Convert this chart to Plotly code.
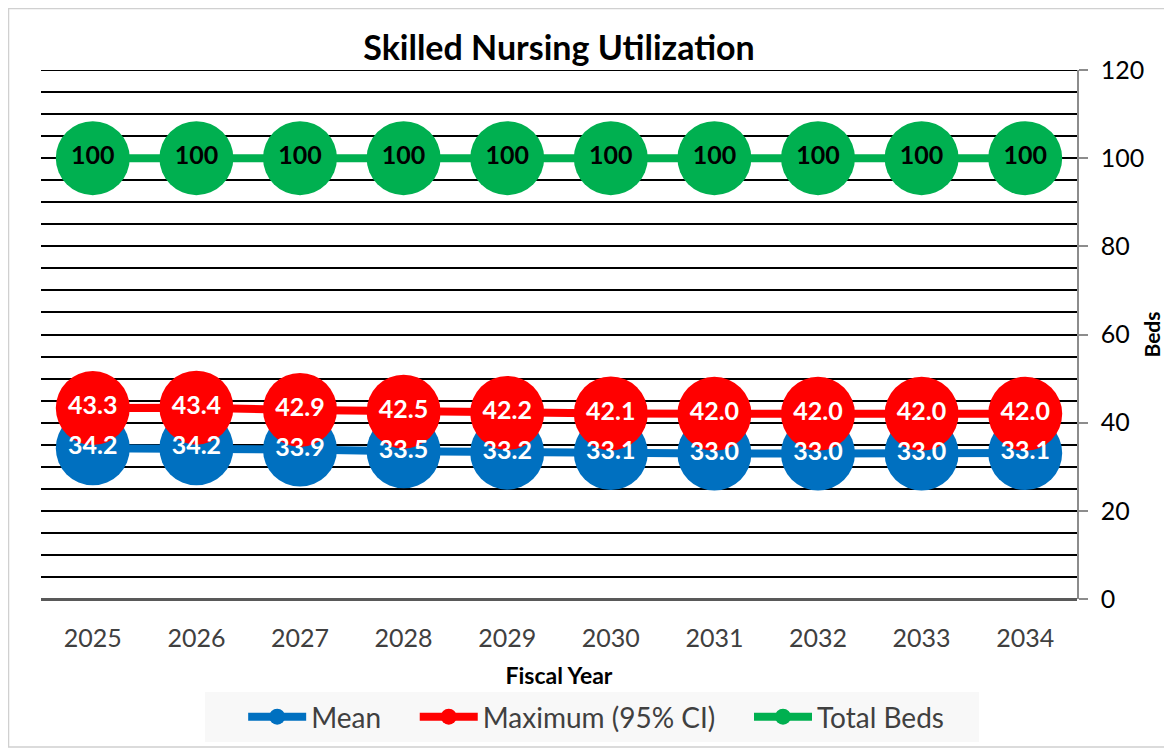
import plotly.graph_objects as go

years = ["2025", "2026", "2027", "2028", "2029", "2030", "2031", "2032", "2033", "2034"]
mean_vals = [34.2, 34.2, 33.9, 33.5, 33.2, 33.1, 33.0, 33.0, 33.0, 33.1]
max_vals = [43.3, 43.4, 42.9, 42.5, 42.2, 42.1, 42.0, 42.0, 42.0, 42.0]
total_beds = [100, 100, 100, 100, 100, 100, 100, 100, 100, 100]

FONT = "Lato"
NB = "\u00a0"
series = [
    ("Mean", NB * 4, mean_vals, "#0070C0", "white", "{:.1f}"),
    ("Maximum (95% CI)", NB * 4, max_vals, "#FF0000", "white", "{:.1f}"),
    ("Total Beds", NB * 4, total_beds, "#00B050", "black", "{:d}"),
]

fig = go.Figure()
for name, pad, vals, color, tcolor, fmt in series:
    fig.add_trace(go.Scatter(
        x=years, y=vals, name=name + pad, mode="lines+markers",
        line=dict(color=color, width=8),
        marker=dict(color=color, size=74),
    ))
# data labels drawn on top of all markers
for name, pad, vals, color, tcolor, fmt in series:
    fig.add_trace(go.Scatter(
        x=years, y=vals, mode="text", showlegend=False, hoverinfo="skip",
        text=[fmt.format(v) for v in vals],
        textposition="middle center",
        textfont=dict(family=FONT, size=25, color=tcolor, weight="bold"),
    ))

# page has an 8px body margin; compensate
OFF = 8
W, H = 1172 - OFF, 748 - OFF
ml, mr, mt, mb = 41 - OFF, 95, 70 - OFF, 149
pw, ph = W - ml - mr, H - mt - mb

fig.update_layout(
    width=W, height=H,
    margin=dict(l=ml, r=mr, t=mt, b=mb, autoexpand=False),
    paper_bgcolor="white", plot_bgcolor="white",
    font=dict(family=FONT, color="black"),
    title=dict(text="<b>Skilled Nursing Utilization</b>", x=(ml + pw / 2) / W,
               xanchor="center", y=1 - (48 - OFF) / H, yanchor="middle",
               font=dict(family=FONT, size=34, color="black")),
    showlegend=True,
    legend=dict(orientation="h", xref="container", yref="container",
                x=((203 + 980) / 2 - OFF) / W, xanchor="center",
                y=1 - (717 - OFF) / H, yanchor="middle",
                bgcolor="#F8F8F8", font=dict(family=FONT, size=28, color="#404040"),
                title=dict(text=NB * 4, side="left", font=dict(family=FONT, size=28)),
                itemwidth=58, traceorder="normal"),
    xaxis=dict(type="category", range=[-0.5, 9.5], showgrid=False, ticks="",
               automargin=False, ticklabelstandoff=22,
               tickfont=dict(family=FONT, size=25, color="#404040"),
               title=dict(text="<b>Fiscal Year</b>", font=dict(family=FONT, size=23, color="black"), standoff=16),
               showline=False, zeroline=False),
    yaxis=dict(side="right", range=[0, 120], dtick=20, tick0=0, automargin=False,
               showgrid=True, gridcolor="black", gridwidth=2,
               minor=dict(dtick=5, showgrid=True, gridcolor="black", gridwidth=2),
               ticks="outside", ticklen=9, tickcolor="#8C8C8C", tickwidth=1.5,
               ticklabelstandoff=8,
               showline=True, linecolor="#8C8C8C", linewidth=1.5,
               zeroline=True, zerolinecolor="#595959", zerolinewidth=3,
               tickfont=dict(family=FONT, size=25, color="black"),
               title=dict(text="<b>Beds</b>", font=dict(family=FONT, size=21, color="black"), standoff=2)),
)

# top gridline (plotly omits the gridline on the plot edge)
fig.add_shape(type="line", xref="paper", yref="y", x0=0, x1=1, y0=120, y1=120,
              line=dict(color="black", width=2), layer="below")

# outer chart border
fig.add_shape(type="rect", xref="paper", yref="paper",
              x0=(0.5 - ml) / pw, x1=(W - 1 - ml) / pw,
              y0=-(H - 1 - mt - ph) / ph, y1=1 + (mt - 0.5) / ph,
              line=dict(color="#D0D0D0", width=1.5), fillcolor="rgba(0,0,0,0)", layer="below")

fig.write_html("out.html")
